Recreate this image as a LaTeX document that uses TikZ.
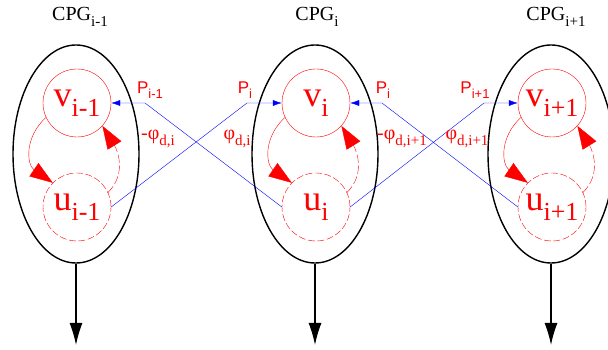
\documentclass[tikz,border=0pt]{standalone}
\usepackage{fontspec}
\setmainfont{Liberation Serif}
\newfontfamily\labsf{Liberation Sans}
\usetikzlibrary{shapes.geometric,arrows.meta}
\newcommand{\cellsub}[1]{\raisebox{-0.27em}{\fontsize{26}{26}\selectfont #1}}
\newcommand{\titlesub}[1]{\raisebox{-0.3em}{\fontsize{15}{15}\selectfont #1}}
\newcommand{\psub}[1]{\raisebox{-0.3em}{\fontsize{13}{13}\selectfont #1}}
\newcommand{\phisub}[1]{\raisebox{-0.3em}{\fontsize{15}{15}\selectfont #1}}
\tikzset{
  cpg/.style={draw, ellipse, line width=1.4pt, minimum width=126pt, minimum height=218pt},
  vcell/.style={draw=red, circle, minimum size=68pt, inner sep=0pt, text=red,
    font=\fontsize{36}{36}\selectfont},
  ucell/.style={vcell, dash pattern=on 7pt off 2.5pt},
  title/.style={font=\fontsize{20}{20}\selectfont},
  plab/.style={text=red, inner sep=0pt, font=\labsf\fontsize{17}{17}\selectfont},
  philab/.style={text=red, inner sep=0pt, font=\fontsize{20}{20}\selectfont},
  coupling/.style={blue, -{Latex[length=9pt,width=6pt]}},
  loopline/.style={red, -{Triangle[length=23pt,width=16pt]}},
  output/.style={line width=1.2pt, -{Latex[length=22pt,width=13pt]}}
}
\begin{document}
\begin{tikzpicture}[x=1pt,y=1pt]
  \useasboundingbox (0,0) rectangle (608,350);
  % oscillators
  \node[cpg] (cpg0) at (76,196) {};
  \node[cpg] (cpg1) at (315,196) {};
  \node[cpg] (cpg2) at (551,196) {};
  \node[title] (t0) at (80,333) {CPG\titlesub{i-1}};
  \node[title] (t1) at (317,333) {CPG\titlesub{i}};
  \node[title] (t2) at (556,333) {CPG\titlesub{i+1}};
  % outputs
  \coordinate (o0) at (76,5);
  \coordinate (o1) at (315,5);
  \coordinate (o2) at (551,5);
  \draw[output] (cpg0.south) -- (o0);
  \draw[output] (cpg1.south) -- (o1);
  \draw[output] (cpg2.south) -- (o2);
  % cells
  \node[vcell] (v0) at (77,247) {v\cellsub{i-1}};
  \node[vcell] (v1) at (316,247) {v\cellsub{i}};
  \node[vcell] (v2) at (552,247) {v\cellsub{i+1}};
  \node[ucell] (u0) at (77,143) {u\cellsub{i-1}};
  \node[ucell] (u1) at (316,143) {u\cellsub{i}};
  \node[ucell] (u2) at (552,143) {u\cellsub{i+1}};
  \draw[loopline] (v0.205) .. controls +(-22,-20) and +(-26,18) .. (u0.135);
  \draw[loopline] (v1.205) .. controls +(-22,-20) and +(-26,18) .. (u1.135);
  \draw[loopline] (v2.205) .. controls +(-22,-20) and +(-26,18) .. (u2.135);
  \draw[loopline, dash pattern=on 8pt off 3pt] (u0.25) .. controls +(18,18) and +(16,-26) .. (v0.318);
  \draw[loopline, dash pattern=on 8pt off 3pt] (u1.25) .. controls +(18,18) and +(16,-26) .. (v1.318);
  \draw[loopline, dash pattern=on 8pt off 3pt] (u2.25) .. controls +(18,18) and +(16,-26) .. (v2.318);
  % couplings
  \coordinate (p0) at (145,247);
  \coordinate (p1) at (247,247);
  \coordinate (p2) at (382,247);
  \coordinate (p3) at (484,247);
  \draw[coupling] (u1.west) -- (p0) -- (v0.east);
  \draw[coupling] (u0.east) -- (p1) -- (v1.west);
  \draw[coupling] (u2.west) -- (p2) -- (v1.east);
  \draw[coupling] (u1.east) -- (p3) -- (v2.west);
  \node[plab, anchor=south] (P0) at (150,251) {P\psub{i-1}};
  \node[plab, anchor=south] (P1) at (245,251) {P\psub{i}};
  \node[plab, anchor=south] (P2) at (383,251) {P\psub{i}};
  \node[plab, anchor=south] (P3) at (475,251) {P\psub{i+1}};
  \node[philab] (f0) at (158,211) {-φ\phisub{d,i}};
  \node[philab] (f1) at (237,211) {φ\phisub{d,i}};
  \node[philab] (f2) at (402,211) {-φ\phisub{d,i+1}};
  \node[philab] (f3) at (467,211) {φ\phisub{d,i+1}};
\end{tikzpicture}
\end{document}
